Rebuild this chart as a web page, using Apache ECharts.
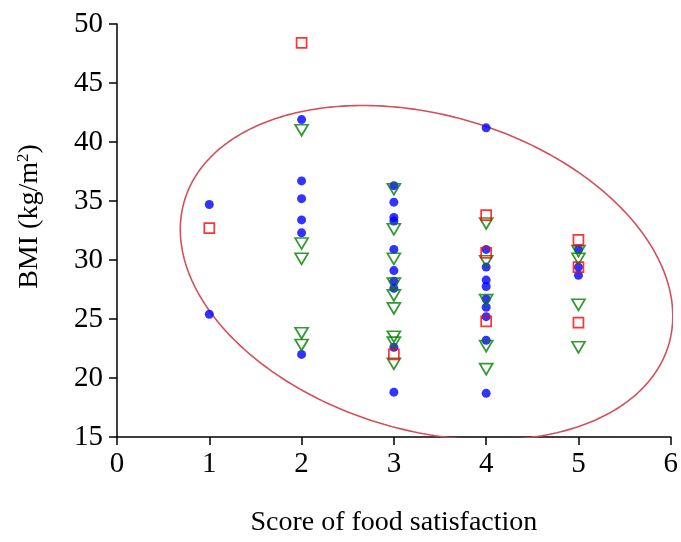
<!DOCTYPE html>
<html>
<head>
<meta charset="utf-8">
<title>BMI vs food satisfaction</title>
<script src="https://cdn.jsdelivr.net/npm/echarts@6/dist/echarts.min.js"></script>
<style>
  html, body { margin: 0; padding: 0; background: #fff; }
  #chart { width: 681px; height: 542px; }
</style>
</head>
<body>
<div id="chart"></div>
<script>
// Group A (filled blue circles): [score, BMI]
const groupCircles = [
  [1, 34.7], [1, 25.4],
  [2, 41.9], [2, 36.7], [2, 35.2], [2, 33.4], [2, 32.3], [2, 22.0],
  [3, 36.3], [3, 34.9], [3, 33.6], [3, 33.3], [3, 30.9], [3, 29.1], [3, 28.2], [3, 27.6], [3, 22.6], [3, 18.8],
  [4, 41.2], [4, 30.9], [4, 29.4], [4, 28.3], [4, 27.75], [4, 26.7], [4, 26.0], [4, 25.2], [4, 23.2], [4, 18.7],
  [5, 30.9], [5, 29.4], [5, 28.7]
];

// Group B (open green down-triangles)
const groupTriangles = [
  [2, 41.0], [2, 31.4], [2, 30.1], [2, 23.8], [2, 22.8],
  [3, 36.0], [3, 32.6], [3, 30.1], [3, 28.0], [3, 27.0], [3, 25.9], [3, 23.5], [3, 23.0], [3, 21.2],
  [4, 33.1], [4, 29.9], [4, 26.6], [4, 22.7], [4, 20.75],
  [5, 30.75], [5, 30.1], [5, 26.2], [5, 22.6]
];

// Group C (open red squares)
const groupSquares = [
  [1, 32.7],
  [2, 48.4],
  [3, 22.0],
  [4, 33.8], [4, 30.6], [4, 24.8],
  [5, 31.7], [5, 29.4], [5, 24.7]
];

// 95% confidence ellipse of all observations: centre, SDs, correlation, chi-square scale
const ellipseCenter = [3.354, 28.92];
const ellipseSD = [1.09, 5.79];
const ellipseRho = -0.2588;
const ellipseChi = 2.4477; // sqrt(chi2(0.95, 2))

const xTicks = [0, 1, 2, 3, 4, 5, 6];
const yTicks = [15, 20, 25, 30, 35, 40, 45, 50];

function ellipsePoints(n) {
  const pts = [];
  const sx = ellipseSD[0] * ellipseChi;
  const sy = ellipseSD[1] * ellipseChi;
  const k = Math.sqrt(1 - ellipseRho * ellipseRho);
  for (let i = 0; i <= n; i++) {
    const t = (i / n) * Math.PI * 2;
    const u = Math.cos(t), v = Math.sin(t);
    pts.push([ellipseCenter[0] + sx * u, ellipseCenter[1] + sy * (ellipseRho * u + k * v)]);
  }
  return pts;
}

const FONT = '"Liberation Serif", "Times New Roman", serif';
const chart = echarts.init(document.getElementById('chart'), null, { renderer: 'canvas' });

chart.setOption({
  backgroundColor: '#ffffff',
  animation: false,
  grid: { left: 117, right: 4, top: 24, bottom: 99, containLabel: false },
  xAxis: {
    type: 'value',
    min: xTicks[0], max: xTicks[xTicks.length - 1], interval: 1,
    name: 'Score of food satisfaction',
    nameLocation: 'middle', nameGap: 72,
    nameTextStyle: { fontFamily: FONT, fontSize: 28, color: '#000' },
    axisLine: { show: true, onZero: false, lineStyle: { color: '#000', width: 1.5 } },
    axisTick: { show: true, inside: false, length: 8, lineStyle: { color: '#000', width: 1.5 } },
    axisLabel: { fontFamily: FONT, fontSize: 29, color: '#000', margin: 13 },
    splitLine: { show: false }
  },
  yAxis: {
    type: 'value',
    min: yTicks[0], max: yTicks[yTicks.length - 1], interval: 5,
    name: 'BMI (kg/m{sup|2})',
    nameLocation: 'middle', nameGap: 72, nameRotate: 90,
    nameTextStyle: {
      fontFamily: FONT, fontSize: 28, color: '#000', lineHeight: 30,
      padding: [0, 0, 0, 28],
      rich: { sup: { fontFamily: FONT, fontSize: 17, color: '#000', verticalAlign: 'top', lineHeight: 30 } }
    },
    axisLine: { show: true, onZero: false, lineStyle: { color: '#000', width: 1.5 } },
    axisTick: { show: true, inside: false, length: 8, lineStyle: { color: '#000', width: 1.5 } },
    axisLabel: { fontFamily: FONT, fontSize: 29, color: '#000', margin: 14 },
    splitLine: { show: false }
  },
  series: [
    {
      name: 'ellipse', type: 'line', data: ellipsePoints(360),
      showSymbol: false, smooth: false, clip: true,
      lineStyle: { color: '#d2505c', width: 1.6 }, silent: true, z: 1
    },
    {
      name: 'circles', type: 'scatter', data: groupCircles,
      symbol: 'circle', symbolSize: 9,
      itemStyle: { color: '#0000ff' }, z: 2
    },
    {
      name: 'triangles', type: 'scatter', data: groupTriangles,
      symbol: 'triangle', symbolRotate: 180, symbolSize: [13, 11],
      itemStyle: { color: 'rgba(0,0,0,0)', borderColor: '#008000', borderWidth: 1.7 }, z: 3
    },
    {
      name: 'squares', type: 'scatter', data: groupSquares,
      symbol: 'rect', symbolSize: 10,
      itemStyle: { color: 'rgba(0,0,0,0)', borderColor: '#ff0000', borderWidth: 1.7 }, z: 4
    }
  ]
});
</script>
</body>
</html>
